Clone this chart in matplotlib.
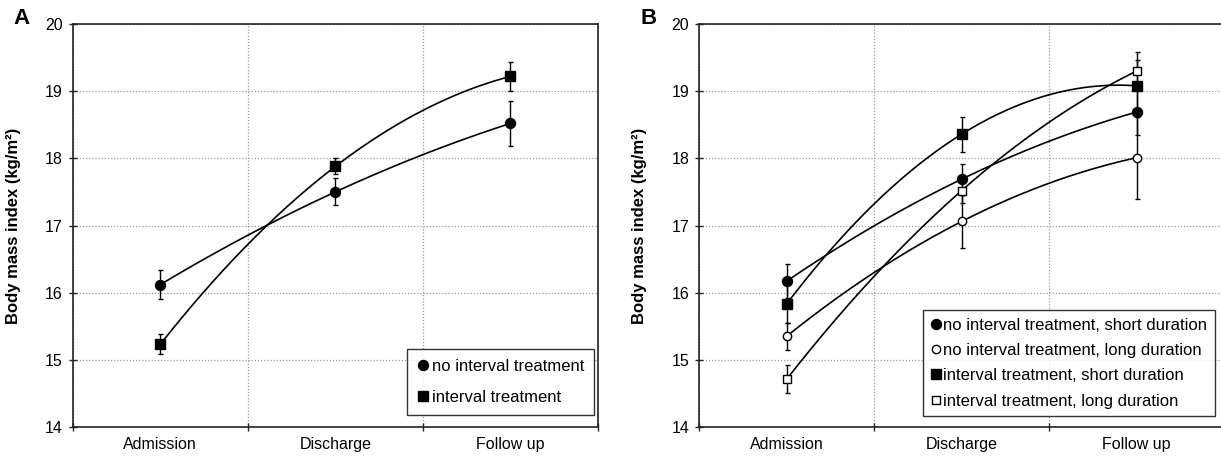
import numpy as np
import matplotlib
matplotlib.use('Agg')
import matplotlib.pyplot as plt
from matplotlib.ticker import FixedLocator, NullFormatter, FixedFormatter

plt.rcParams['font.family'] = ['Liberation Sans', 'DejaVu Sans']

categories = ['Admission', 'Discharge', 'Follow up']

# panel A
no_interval = [16.12, 17.50, 18.52]
no_interval_err = [0.22, 0.20, 0.33]
interval = [15.23, 17.88, 19.22]
interval_err = [0.15, 0.12, 0.22]

# panel B
no_int_short = [16.17, 17.69, 18.69]
no_int_short_err = [0.25, 0.23, 0.35]
no_int_long = [15.35, 17.06, 18.01]
no_int_long_err = [0.20, 0.40, 0.61]
int_short = [15.83, 18.36, 19.08]
int_short_err = [0.28, 0.26, 0.39]
int_long = [14.71, 17.52, 19.30]
int_long_err = [0.21, 0.18, 0.29]

yticks = [14, 15, 16, 17, 18, 19, 20]

W, H = 1221, 458
fig = plt.figure(figsize=(W / 100, H / 100), dpi=100)

x = np.arange(len(categories))
xs = np.linspace(0, len(categories) - 1, 200)


def series(ax, y, err, marker, filled, ms, label):
    ax.errorbar(x, y, yerr=err, fmt='none', ecolor='black', elinewidth=1.0,
                capsize=1.8, capthick=1.0, zorder=3)
    # smoothed line through the three points
    coef = np.polyfit(x, y, 2)
    ax.plot(xs, np.polyval(coef, xs), color='black', lw=1.2, zorder=4)
    ax.plot(x, y, linestyle='none', marker=marker, ms=ms,
            mfc='black' if filled else 'white', mec='black', mew=1.0,
            zorder=5, label=label)


def style(ax, letter, lx):
    ax.set_xlim(-0.5, 2.5)
    ax.set_ylim(14, 20)
    ax.xaxis.set_major_locator(FixedLocator([-0.5, 0.5, 1.5, 2.5]))
    ax.xaxis.set_major_formatter(NullFormatter())
    ax.xaxis.set_minor_locator(FixedLocator(list(x)))
    ax.xaxis.set_minor_formatter(FixedFormatter(categories))
    ax.set_yticks(yticks)
    ax.tick_params(axis='x', which='major', direction='inout', length=6, width=1.0,
                   color='#222222')
    ax.tick_params(axis='x', which='minor', length=0, pad=7, labelsize=11.5)
    ax.tick_params(axis='y', direction='inout', length=6, width=1.0, pad=4,
                   labelsize=11.5, color='#222222')
    for s in ax.spines.values():
        s.set_linewidth(1.2)
        s.set_color('#222222')
    ax.grid(True, which='major', color='#9a9a9a', linestyle=(0, (1, 1.5)), lw=0.9)
    ax.set_axisbelow(True)
    ax.set_ylabel('Body mass index (kg/m²)', fontsize=12, fontweight='bold')
    ax.yaxis.set_label_coords(-0.099, 0.5)
    fig.text(lx / W, 1 - 18 / H, letter, fontsize=16, fontweight='bold',
             ha='center', va='center')


axA = fig.add_axes([72.7 / W, 31 / H, 525.3 / W, 403 / H])
series(axA, no_interval, no_interval_err, 'o', True, 7.2, 'no interval treatment')
series(axA, interval, interval_err, 's', True, 6.7, 'interval treatment')
style(axA, 'A', 21.5)
legA = axA.legend(loc='lower right', bbox_to_anchor=(0.9924, 0.0298), borderaxespad=0,
                  fontsize=12, frameon=True, fancybox=False, edgecolor='black',
                  handlelength=0.7, handletextpad=0.15, labelspacing=0.95,
                  borderpad=0.6)
legA.get_frame().set_linewidth(1.0)

axB = fig.add_axes([699 / W, 31 / H, 525.3 / W, 403 / H])
series(axB, no_int_short, no_int_short_err, 'o', True, 7.2, 'no interval treatment, short duration')
series(axB, no_int_long, no_int_long_err, 'o', False, 6, 'no interval treatment, long duration')
series(axB, int_short, int_short_err, 's', True, 6.7, 'interval treatment, short duration')
series(axB, int_long, int_long_err, 's', False, 5.5, 'interval treatment, long duration')
style(axB, 'B', 649)
legB = axB.legend(loc='lower right', bbox_to_anchor=(0.982, 0.027), borderaxespad=0,
                  fontsize=12, frameon=True, fancybox=False, edgecolor='black',
                  handlelength=0.6, handletextpad=0.15, labelspacing=0.62,
                  borderpad=0.45)
legB.get_frame().set_linewidth(1.0)

fig.savefig('out.png', dpi=100, facecolor='white')
